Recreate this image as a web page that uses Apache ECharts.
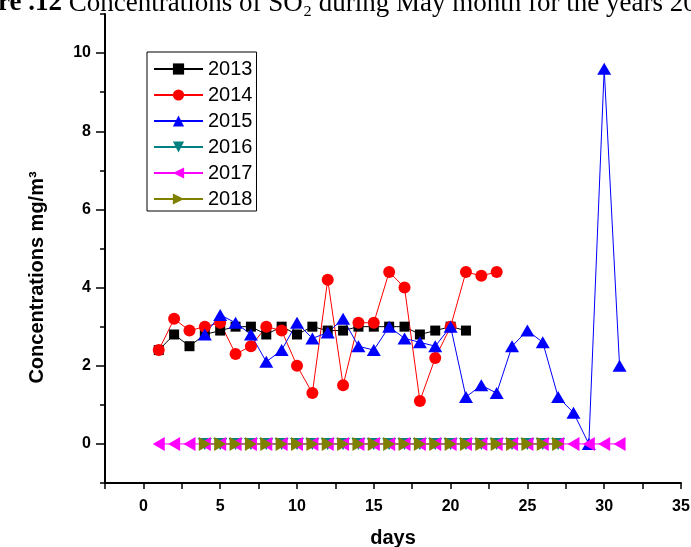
<!DOCTYPE html>
<html><head><meta charset="utf-8">
<script src="https://cdn.jsdelivr.net/npm/echarts@6/dist/echarts.min.js"></script>
<style>html,body{margin:0;padding:0;background:#fff}#c{width:691px;height:547px}</style>
</head><body><div id="c"></div>
<script>
const years = ['2013', '2014', '2015', '2016', '2017', '2018'];
const days2013 = [1,2,3,4,5,6,7,8,9,10,11,12,13,14,15,16,17,18,19,20,21];
const conc2013 = [2.4,2.8,2.5,2.8,2.9,3.0,3.0,2.8,3.0,2.8,3.0,2.9,2.9,3.0,3.0,3.0,3.0,2.8,2.9,3.0,2.9];
const days2014 = [1,2,3,4,5,6,7,8,9,10,11,12,13,14,15,16,17,18,19,20,21,22,23];
const conc2014 = [2.4,3.2,2.9,3.0,3.1,2.3,2.5,3.0,2.9,2.0,1.3,4.2,1.5,3.1,3.1,4.4,4.0,1.1,2.2,3.0,4.4,4.3,4.4];
const days2015 = [4,5,6,7,8,9,10,11,12,13,14,15,16,17,18,19,20,21,22,23,24,25,26,27,28,29,30,31];
const conc2015 = [2.8,3.3,3.1,2.8,2.1,2.4,3.1,2.7,2.85,3.2,2.5,2.4,3.0,2.7,2.6,2.5,3.0,1.2,1.5,1.3,2.5,2.9,2.6,1.2,0.8,0,9.6,2.0];
const days2016 = [4,5,6,7,8,9,10,11,12,13,14,15,16,17,18,19,20,21,22,23,24,25,26,27];
const conc2016 = [0,0,0,0,0,0,0,0,0,0,0,0,0,0,0,0,0,0,0,0,0,0,0,0];
const days2017 = [1,2,3,4,5,6,7,8,9,10,11,12,13,14,15,16,17,18,19,20,21,22,23,24,25,26,27,28,29,30,31];
const conc2017 = [0,0,0,0,0,0,0,0,0,0,0,0,0,0,0,0,0,0,0,0,0,0,0,0,0,0,0,0,0,0,0];
const days2018 = [4,5,6,7,8,9,10,11,12,13,14,15,16,17,18,19,20,21,22,23,24,25,26,27];
const conc2018 = [0,0,0,0,0,0,0,0,0,0,0,0,0,0,0,0,0,0,0,0,0,0,0,0];
const xTickLabels = [0,5,10,15,20,25,30,35];
const yTickLabels = [0,2,4,6,8,10];

const seriesDays = [days2013, days2014, days2015, days2016, days2017, days2018];
const seriesConc = [conc2013, conc2014, conc2015, conc2016, conc2017, conc2018];
const styles = [
  {color:'#000000', symbol:'rect', size:10, rot:0},
  {color:'#ff0000', symbol:'circle', size:12, rot:0},
  {color:'#0000ff', symbol:'triangle', size:[14,12], rot:0},
  {color:'#008080', symbol:'triangle', size:[14,12], rot:180},
  {color:'#ff00ff', symbol:'triangle', size:[14,12], rot:90},
  {color:'#808000', symbol:'triangle', size:[14,12], rot:-90}
];
const sans = "'Liberation Sans', Arial, sans-serif";
const serif = "'Liberation Serif', 'Times New Roman', serif";
const series = years.map((y, k) => ({
  name: y,
  type: 'line',
  data: seriesDays[k].map((d, i) => [d, seriesConc[k][i]]),
  symbol: styles[k].symbol,
  symbolSize: styles[k].size,
  symbolRotate: styles[k].rot,
  showAllSymbol: true,
  itemStyle: {color: styles[k].color},
  lineStyle: {color: styles[k].color, width: 1},
  emphasis: {disabled: true}
}));

const chart = echarts.init(document.getElementById('c'), null, {renderer: 'canvas'});
chart.setOption({
  animation: false,
  backgroundColor: '#ffffff',
  title: {
    text: '{b|re .12} Concentrations of SO₂ during May month for the years 2013-2018',
    left: -2, top: -10, padding: 0,
    textStyle: {fontFamily: serif, fontSize: 27, fontWeight: 'normal', color: '#000',
      rich: {b: {fontFamily: serif, fontSize: 27, fontWeight: 'bold', color: '#000'}}}
  },
  grid: {left: 105, right: 10, top: 14, bottom: 64, containLabel: false, outerBoundsMode: 'none'},
  legend: {
    orient: 'vertical', left: 147, top: 52,
    data: years,
    itemWidth: 49, itemHeight: 14, itemGap: 6,
    padding: [7, 4, 2, 6],
    borderColor: '#000', borderWidth: 1,
    textStyle: {fontFamily: sans, fontSize: 20, color: '#000'}
  },
  xAxis: {
    type: 'value', min: -2.5, max: 35, interval: 2.5,
    name: 'days', nameLocation: 'middle', nameGap: 45,
    nameTextStyle: {fontFamily: sans, fontSize: 20, fontWeight: 'bold', color: '#000'},
    axisLine: {show: true, onZero: false, lineStyle: {color: '#000', width: 2}},
    axisTick: {show: true, length: 6, lineStyle: {color: '#000', width: 1.5}},
    axisLabel: {customValues: xTickLabels, margin: 16, fontFamily: sans, fontSize: 16, fontWeight: 'bold', color: '#000'},
    splitLine: {show: false}
  },
  yAxis: [{
    type: 'value', min: -1, max: 11, interval: 1,
    name: 'Concentrations mg/m³', nameLocation: 'middle', nameGap: 58, nameRotate: 90,
    nameTextStyle: {fontFamily: sans, fontSize: 20, fontWeight: 'bold', color: '#000', padding: [0, 58, 0, 0]},
    axisLine: {show: true, onZero: false, lineStyle: {color: '#000', width: 2}},
    axisTick: {show: true, length: 9, customValues: yTickLabels, lineStyle: {color: '#000', width: 1.5}},
    axisLabel: {customValues: yTickLabels, margin: 14, fontFamily: sans, fontSize: 16, fontWeight: 'bold', color: '#000'},
    splitLine: {show: false}
  }, {
    type: 'value', min: -1, max: 11, interval: 1, position: 'left', offset: 0,
    axisLine: {show: false, onZero: false},
    axisTick: {show: true, length: 5, lineStyle: {color: '#000', width: 1.5}},
    axisLabel: {show: false},
    splitLine: {show: false}
  }],
  series: series
});
</script>
</body></html>
